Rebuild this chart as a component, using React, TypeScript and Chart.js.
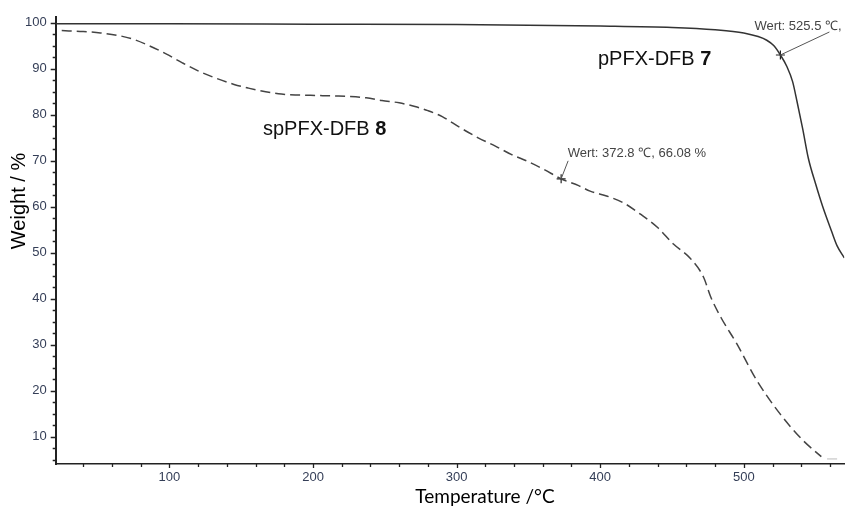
import React, { useEffect, useRef } from 'react';
import { Chart, registerables } from 'chart.js';

Chart.register(...registerables);

// ---- data ----
const tempSolid = [21, 100, 200, 300, 400, 450, 480, 500, 510, 516, 521, 525.5, 530, 534, 537, 541, 545, 550, 555, 561, 565, 570];
const weightSolid = [99.8, 99.8, 99.7, 99.6, 99.3, 99.0, 98.5, 97.8, 97.0, 96.2, 95.0, 93.0, 90.5, 87.2, 83.0, 77.0, 70.5, 65.0, 60.0, 54.8, 51.5, 48.9];

const tempDashed = [25, 40, 52, 65, 75, 86, 98, 109, 121, 132, 145, 155, 167, 178, 190, 202, 215, 225, 237, 248, 260, 271, 280, 290, 302, 315, 327, 338, 350, 361, 372.8, 385, 393, 405, 416, 428, 440, 451, 463, 472, 477, 484, 495, 509, 525, 541, 554];
const weightDashed = [98.3, 98.1, 97.8, 97.2, 96.4, 95.0, 93.2, 91.3, 89.4, 88.0, 86.6, 85.8, 85.0, 84.5, 84.3, 84.2, 84.1, 84.0, 83.7, 83.1, 82.6, 81.8, 80.9, 79.6, 77.3, 75.0, 73.2, 71.4, 69.8, 68.1, 66.08, 64.6, 63.4, 62.3, 60.9, 58.4, 55.5, 51.9, 48.7, 44.7, 40.4, 36.0, 30.3, 22.3, 15.1, 9.3, 5.7];

const tempTail = [558, 565];
const weightTail = [5.2, 5.2];

const markerTemps = [525.5, 372.8];
const markerWeights = [93.0, 66.08];
const markerLabels = ['Wert: 525.5 \u2103,', 'Wert: 372.8 \u2103, 66.08 %'];

const seriesNames = ['pPFX-DFB ', 'spPFX-DFB '];
const seriesNumbers = ['7', '8'];

const xTicks = [100, 200, 300, 400, 500];
const yTicks = [10, 20, 30, 40, 50, 60, 70, 80, 90, 100];
const xTitle = 'Temperature /\u00B0C';
const yTitle = 'Weight / %';

const X_MIN = 20.8;
const X_MAX = 570;
const Y_MIN = 4.1;
const Y_MAX = 101.3;

const ARIAL = '"Liberation Sans", Arial, sans-serif';
const TICK_COLOR = '#343e57';

const toXY = (xs: number[], ys: number[]) => xs.map((x, i) => ({ x, y: ys[i] }));

const decorPlugin = {
  id: 'decor',
  afterDraw(chart: any) {
    const { ctx, chartArea, scales } = chart;
    const xs = scales.x;
    const ys = scales.y;
    ctx.save();
    // tick marks
    ctx.strokeStyle = '#222';
    ctx.lineWidth = 1.3;
    ctx.beginPath();
    for (let v = 40; v <= X_MAX; v += 20) {
      const px = Math.round(xs.getPixelForValue(v)) + 0.5;
      const len = v % 100 === 0 ? 4 : 3;
      ctx.moveTo(px, chartArea.bottom);
      ctx.lineTo(px, chartArea.bottom + len);
    }
    for (let v = 5; v <= 100; v += 2.5) {
      const py = Math.round(ys.getPixelForValue(v)) + 0.5;
      const len = v % 10 === 0 ? 5 : 3;
      ctx.moveTo(chartArea.left, py);
      ctx.lineTo(chartArea.left - len, py);
    }
    ctx.stroke();

    // annotations
    const leader = [
      [49, -23],
      [7, -18],
    ];
    const textOff = [
      [-26, -25],
      [6.5, -22],
    ];
    ctx.strokeStyle = '#555';
    ctx.lineWidth = 1;
    ctx.fillStyle = '#444';
    ctx.font = `13px ${ARIAL}`;
    ctx.textAlign = 'left';
    ctx.textBaseline = 'alphabetic';
    markerTemps.forEach((t, i) => {
      const mx = xs.getPixelForValue(t);
      const my = ys.getPixelForValue(markerWeights[i]);
      ctx.beginPath();
      ctx.moveTo(mx, my);
      ctx.lineTo(mx + leader[i][0], my + leader[i][1]);
      ctx.stroke();
      ctx.fillText(markerLabels[i], mx + textOff[i][0], my + textOff[i][1]);
    });

    // series labels
    const labelPos = [
      [598, 65],
      [263, 135],
    ];
    ctx.fillStyle = '#111';
    seriesNames.forEach((name, i) => {
      ctx.font = `20px ${ARIAL}`;
      ctx.fillText(name, labelPos[i][0], labelPos[i][1]);
      const w = ctx.measureText(name).width;
      ctx.font = `bold 20px ${ARIAL}`;
      ctx.fillText(seriesNumbers[i], labelPos[i][0] + w, labelPos[i][1]);
    });

    // axis titles
    ctx.fillStyle = '#000';
    ctx.font = `19px Lato, "Open Sans", sans-serif`;
    ctx.textAlign = 'center';
    ctx.fillText(xTitle, 485, 503);
    ctx.save();
    ctx.translate(19.5, 201);
    ctx.rotate(-Math.PI / 2);
    ctx.font = `20px ${ARIAL}`;
    ctx.textBaseline = 'middle';
    ctx.fillText(yTitle, 0, 0);
    ctx.restore();

    ctx.restore();
  },
};

export default function App() {
  const ref = useRef<HTMLCanvasElement>(null);
  useEffect(() => {
    if (!ref.current) return;
    const chart = new Chart(ref.current, {
      type: 'line',
      data: {
        datasets: [
          {
            label: 'pPFX-DFB 7',
            data: toXY(tempSolid, weightSolid),
            borderColor: '#333',
            borderWidth: 1.5,
            pointRadius: 0,
            cubicInterpolationMode: 'monotone',
            fill: false,
          },
          {
            label: 'spPFX-DFB 8',
            data: toXY(tempDashed, weightDashed),
            borderColor: '#444',
            borderWidth: 1.5,
            borderDash: [10, 5],
            pointRadius: 0,
            cubicInterpolationMode: 'monotone',
            fill: false,
          },
          {
            label: 'tail',
            data: toXY(tempTail, weightTail),
            borderColor: '#bbb',
            borderWidth: 1,
            pointRadius: 0,
            fill: false,
          },
          {
            label: 'markers',
            data: toXY(markerTemps, markerWeights),
            showLine: false,
            pointStyle: 'cross',
            pointRadius: 4.5,
            pointBorderWidth: 1.2,
            pointBorderColor: '#222',
            borderColor: '#222',
          },
        ],
      },
      options: {
        animation: false,
        responsive: false,
        maintainAspectRatio: false,
        devicePixelRatio: 1,
        layout: { padding: { top: 15, right: 2, left: 0, bottom: 0 } },
        plugins: {
          legend: { display: false },
          tooltip: { enabled: false },
          title: { display: false },
        },
        scales: {
          x: {
            type: 'linear',
            min: X_MIN,
            max: X_MAX,
            afterBuildTicks: (s: any) => {
              s.ticks = xTicks.map((v) => ({ value: v }));
            },
            afterFit: (s: any) => {
              s.height = 42;
            },
            grid: { display: false, drawTicks: false },
            border: { display: true, color: '#222', width: 1.5 },
            ticks: {
              autoSkip: false,
              maxRotation: 0,
              padding: 6,
              color: TICK_COLOR,
              font: { size: 13, family: ARIAL },
            },
          },
          y: {
            type: 'linear',
            min: Y_MIN,
            max: Y_MAX,
            afterBuildTicks: (s: any) => {
              s.ticks = yTicks.map((v) => ({ value: v }));
            },
            afterFit: (s: any) => {
              s.width = 55.7;
            },
            grid: { display: false, drawTicks: false },
            border: { display: true, color: '#222', width: 2 },
            ticks: {
              autoSkip: false,
              padding: 9,
              color: TICK_COLOR,
              font: { size: 13, family: ARIAL },
            },
          },
        },
      },
      plugins: [decorPlugin],
    } as any);
    return () => chart.destroy();
  }, []);
  return (
    <div style={{ position: 'absolute', left: 0, top: 0, width: 850, height: 506, background: '#fff' }}>
      <canvas ref={ref} width={850} height={506} style={{ display: 'block' }} />
    </div>
  );
}
